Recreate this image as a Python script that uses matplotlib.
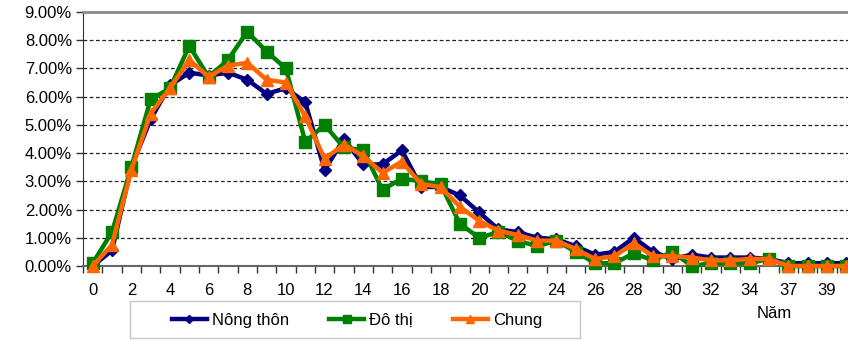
import numpy as np
import matplotlib.pyplot as plt
from matplotlib.patches import Rectangle
from matplotlib.ticker import FuncFormatter

plt.rcParams['font.family'] = ['Liberation Sans', 'DejaVu Sans']

# So nam (0..35, roi 37..40)
nam = list(range(0, 36)) + [37, 38, 39, 40]

# Ty le (%) theo khu vuc
nong_thon = [0.0, 0.55, 3.5, 5.2, 6.4, 6.85, 6.75, 6.85, 6.6, 6.1,
             6.3, 5.8, 3.4, 4.5, 3.6, 3.6, 4.1, 2.8, 2.8, 2.5,
             1.9, 1.3, 1.2, 1.0, 0.95, 0.7, 0.4, 0.5, 1.0, 0.5,
             0.25, 0.4, 0.3, 0.3, 0.3, 0.25, 0.1, 0.1, 0.1, 0.1]
do_thi = [0.1, 1.2, 3.5, 5.9, 6.3, 7.8, 6.7, 7.3, 8.3, 7.6,
          7.0, 4.4, 5.0, 4.2, 4.1, 2.7, 3.1, 3.0, 2.9, 1.5,
          1.0, 1.2, 0.9, 0.7, 0.9, 0.5, 0.1, 0.1, 0.45, 0.2,
          0.5, 0.0, 0.1, 0.1, 0.1, 0.25, 0.0, 0.0, 0.0, 0.0]
chung = [0.0, 0.75, 3.4, 5.4, 6.3, 7.3, 6.7, 7.1, 7.2, 6.6,
         6.5, 5.3, 3.8, 4.3, 3.9, 3.3, 3.7, 2.9, 2.8, 2.1,
         1.6, 1.25, 1.1, 0.9, 0.9, 0.6, 0.25, 0.35, 0.8, 0.35,
         0.35, 0.3, 0.2, 0.2, 0.25, 0.25, 0.0, 0.0, 0.0, 0.0]

fig = plt.figure(figsize=(8.48, 3.4), dpi=100)
# truc x keo dai qua mep phai cua hinh
ax = fig.add_axes([83 / 848, 74 / 340, 773 / 848, 254 / 340])

x = np.arange(len(nam))
ax.plot(x, nong_thon, color='#000080', lw=3.2, marker='D', ms=6,
        label='Nông thôn', clip_on=False, zorder=3)
ax.plot(x, do_thi, color='#008000', lw=3.2, marker='s', ms=8,
        label='Đô thị', clip_on=False, zorder=4)
ax.plot(x, chung, color='#FF6600', lw=3.2, marker='^', ms=9,
        label='Chung', clip_on=False, zorder=5)

ax.set_xlim(-0.5, len(nam) - 0.5)
ax.set_ylim(0, 9)
ax.set_yticks(np.arange(0, 10, 1))
ax.yaxis.set_major_formatter(FuncFormatter(lambda v, p: '%.2f%%' % v))
for v in range(1, 9):
    ax.axhline(v, color='#222222', lw=0.9, ls=(0, (3, 2)), zorder=1)

ax.set_xticks(x[::2])
ax.set_xticklabels([str(n) for n in nam[::2]])
ax.set_xticks(np.arange(-0.5, len(nam), 1), minor=True)
ax.tick_params(axis='x', which='major', length=0, pad=12, labelsize=12)
ax.tick_params(axis='x', which='minor', length=5, width=1, color='#333333')
ax.tick_params(axis='y', length=5, width=1, labelsize=12, pad=3, color='#333333')

ax.spines['right'].set_visible(False)
ax.spines['top'].set_color('#8a8a8a')
ax.spines['top'].set_linewidth(2)
ax.spines['left'].set_color('#333333')
ax.spines['bottom'].set_color('#666666')
ax.spines['bottom'].set_linewidth(1.5)

# khung chu giai
fig.patches.append(Rectangle((130 / 848, 2 / 340), 450 / 848, 37 / 340,
                             transform=fig.transFigure, fill=False,
                             edgecolor='#c8c8c8', lw=1))
fig.legend(loc='center', bbox_to_anchor=(357 / 848, 20 / 340), ncol=3,
           frameon=False, fontsize=12, handlelength=2.1, handletextpad=0.3,
           columnspacing=2.4, markerscale=0.7)
fig.text(757 / 848, 1 - 313 / 340, 'Năm', fontsize=12, va='center')

fig.savefig('out.png', dpi=100)
